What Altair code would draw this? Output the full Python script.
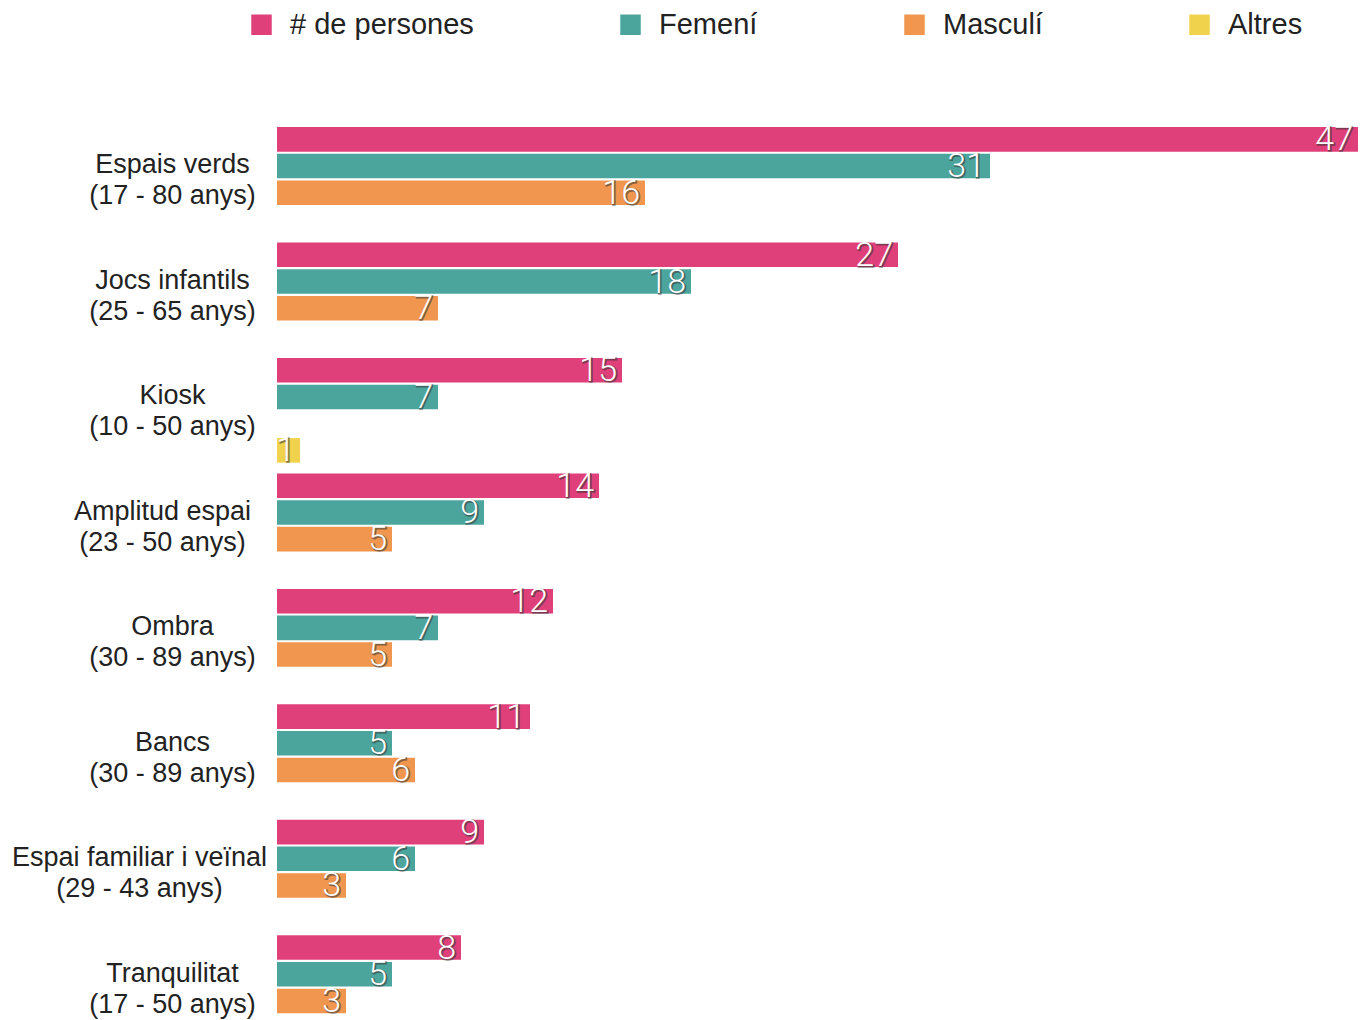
import altair as alt
import pandas as pd

categories = ["Espais verds", "Jocs infantils", "Kiosk", "Amplitud espai",
              "Ombra", "Bancs", "Espai familiar i veïnal", "Tranquilitat"]
ranges = ["(17 - 80 anys)", "(25 - 65 anys)", "(10 - 50 anys)", "(23 - 50 anys)",
          "(30 - 89 anys)", "(30 - 89 anys)", "(29 - 43 anys)", "(17 - 50 anys)"]
series = ["# de persones", "Femení", "Masculí", "Altres"]
persones = [47, 27, 15, 14, 12, 11, 9, 8]
femeni = [31, 18, 7, 9, 7, 5, 6, 5]
masculi = [16, 7, None, 5, 5, 6, 3, 3]
altres = [None, None, 1, None, None, None, None, None]
colors = ["#E0407A", "#4CA59D", "#F0964E", "#F1D24D"]

rows = []
for i, c in enumerate(categories):
    label = c + "|" + ranges[i]
    for s, vals in zip(series, [persones, femeni, masculi, altres]):
        v = vals[i]
        if v is not None:
            rows.append({"cat": label, "series": s, "value": v})
df = pd.DataFrame(rows)
cat_order = [c + "|" + r for c, r in zip(categories, ranges)]

LFONT = "Liberation Sans"
NFONT = "Roboto"

y_enc = alt.Y("cat:N", sort=cat_order,
              scale=alt.Scale(paddingInner=0.075, paddingOuter=0),
              axis=alt.Axis(title=None, domain=False, ticks=False, tickSize=0,
                            labelExpr="split(datum.label, '|')",
                            labelFont=LFONT, labelFontSize=27, labelColor="#222222",
                            labelLineHeight=31, labelAlign="center",
                            labelBaseline="middle", labelLimit=400,
                            labelOffset=-14,
                            labelPadding={"condition": [
                                {"test": "indexof(datum.label, 'Amplitud') == 0", "value": 115},
                                {"test": "indexof(datum.label, 'Espai familiar') == 0", "value": 138}],
                                "value": 105}))
yoff_enc = alt.YOffset("series:N", sort=series,
                       scale=alt.Scale(domain=series, paddingInner=0.08, paddingOuter=0.04))
x_enc = alt.X("value:Q", scale=alt.Scale(domain=[0, 47], nice=False, zero=True), axis=None)

base = alt.Chart(df)

bars = base.mark_bar().encode(
    y=y_enc, yOffset=yoff_enc, x=x_enc,
    color=alt.Color("series:N", sort=series,
                    scale=alt.Scale(domain=series, range=colors),
                    legend=alt.Legend(title=None, orient="none", direction="horizontal",
                                      legendX=-30, legendY=-116,
                                      symbolType="square", symbolSize=420,
                                      symbolStrokeWidth=0, labelFont=LFONT,
                                      labelFontSize=29, labelColor="#222222",
                                      labelOffset=14, columnPadding=142,
                                      labelLimit=400)),
)

shadow = base.mark_text(align="right", baseline="middle", dx=-4, dy=2,
                        font=NFONT, fontWeight=300, fontSize=34,
                        fill="#333333", opacity=0.55, stroke="#333333",
                        strokeWidth=1.5).encode(
    y=alt.Y("cat:N", sort=cat_order), yOffset=alt.YOffset("series:N", sort=series),
    x="value:Q", text="value:Q")

labels = base.mark_text(align="right", baseline="middle", dx=-5, dy=1,
                        font=NFONT, fontWeight=300, fontSize=34,
                        fill="white").encode(
    y=alt.Y("cat:N", sort=cat_order), yOffset=alt.YOffset("series:N", sort=series),
    x="value:Q", text="value:Q")

chart = alt.layer(bars, shadow, labels).properties(
    width=1081, height=915,
    autosize=alt.AutoSizeParams(type="none"),
    padding={"left": 269, "top": 118, "right": 5, "bottom": 0},
).configure_view(stroke=None)

chart.save("out.html", embed_options={"renderer": "svg", "actions": False})
